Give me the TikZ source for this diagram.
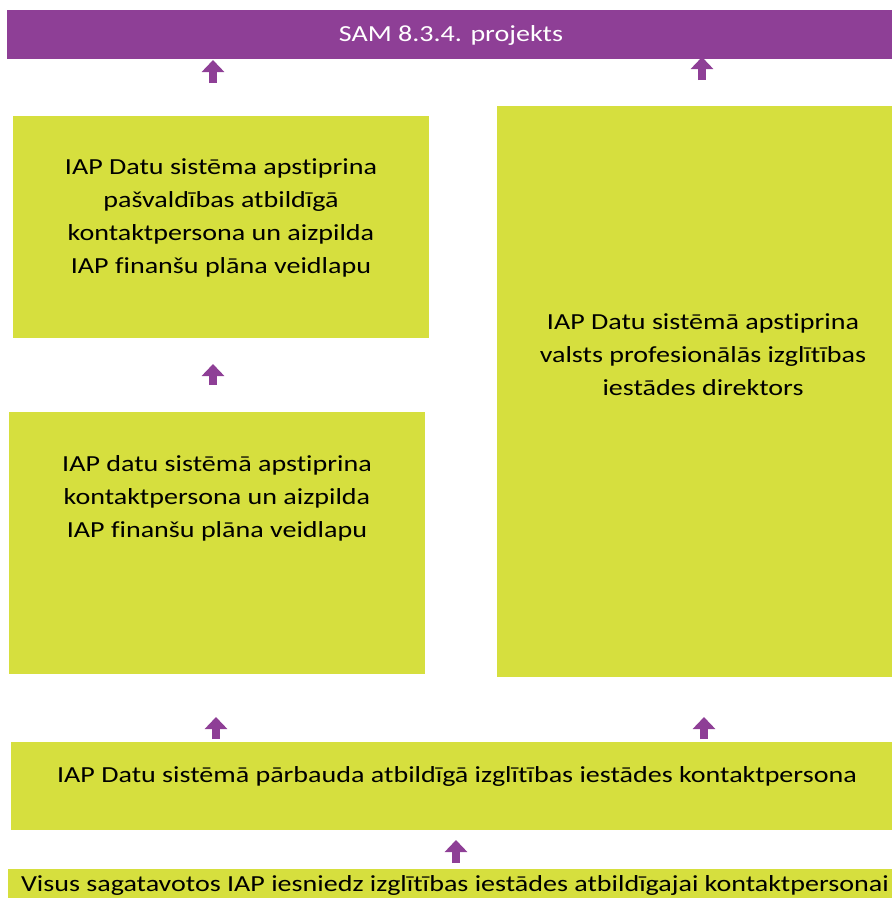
\documentclass[tikz,border=0pt]{standalone}
\usepackage{fontspec}
\setmainfont[FakeStretch=1.22, Ligatures={NoCommon}]{Carlito}
\usepackage{tikz}
\usetikzlibrary{arrows.meta}
\usetikzlibrary{positioning}

\definecolor{samviolet}{RGB}{142,63,150}
\definecolor{samlime}{RGB}{214,223,62}

\tikzset{
  bar/.style={fill=samviolet, anchor=north west, inner sep=0pt},
  stepbox/.style={fill=samlime, anchor=north west, inner sep=0pt},
  txt/.style={align=center, font=\fontsize{23}{33}\selectfont, inner sep=0pt},
  up/.style={draw=samviolet, line width=8pt,
    -{Triangle[width=22pt,length=12pt]}}
}

\begin{document}
\begin{tikzpicture}[x=1pt,y=-1pt]
          \useasboundingbox (0,0) rectangle (892,898);

          % boxes
          \node (sam) [bar, minimum width=885pt, minimum height=49pt] at (7,10) {};
          \node (pasv) [stepbox, minimum width=416pt, minimum height=222pt] at (13,116) {};
          \node (kont) [stepbox, minimum width=416pt, minimum height=262pt] at (9,412) {};
          \node (dir) [stepbox, minimum width=395pt, minimum height=571pt] at (497,106) {};
          \node (parb) [stepbox, minimum width=881pt, minimum height=88pt] at (11,742) {};
          \node (visi) [stepbox, minimum width=884pt, minimum height=29pt] at (8,869) {};

          % texts
          \node (samt) [txt, text=white] at (451,35) {SAM 8.3.4. projekts};
          \node (pasvt) [txt] at (221,218) {IAP Datu sistēma apstiprina\\pašvaldības atbildīgā\\kontaktpersona un aizpilda\\IAP finanšu plāna veidlapu};
          \node (kontt) [txt] at (217,498) {IAP datu sistēmā apstiprina\\kontaktpersona un aizpilda\\IAP finanšu plāna veidlapu};
          \node (dirt) [txt] at (703,355) {IAP Datu sistēmā apstiprina\\valsts profesionālās izglītības\\iestādes direktors};
          \node (parbt) [txt] at (457,776) {IAP Datu sistēmā pārbauda atbildīgā izglītības iestādes kontaktpersona};
          \node (visit) [txt] at (455,885) {Visus sagatavotos IAP iesniedz izglītības iestādes atbildīgajai kontaktpersonai};

          % arrow columns
          \coordinate (c1) at (456,0);
          \coordinate (c2) at (216,0);
          \coordinate (c3) at (704,0);
          \coordinate (c4) at (213,0);
          \coordinate (c5) at (702,0);

          % arrows
          \draw[up] (visi.north -| c1) ++(0,-6) -- ++(0,-23);
          \draw[up] (parb.north -| c2) ++(0,-3) -- ++(0,-22);
          \draw[up] (parb.north -| c3) ++(0,-3) -- ++(0,-22);
          \draw[up] (kont.north -| c4) ++(0,-27) -- ++(0,-21);
          \draw[up] (pasv.north -| c4) ++(0,-33) -- ++(0,-23);
          \draw[up] (dir.north -| c5) ++(0,-26) -- ++(0,-23);

        \end{tikzpicture}
\end{document}
